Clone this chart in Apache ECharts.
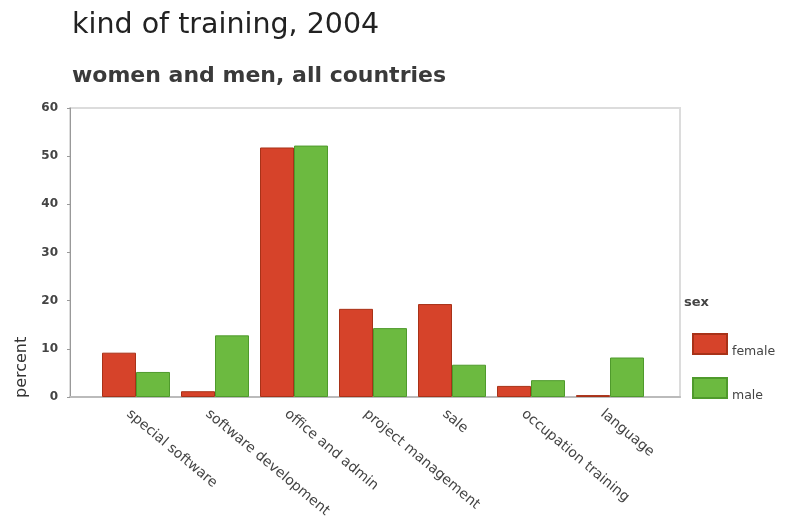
<!DOCTYPE html>
<html>
<head>
<meta charset="utf-8">
<script src="https://cdn.jsdelivr.net/npm/echarts@6/dist/echarts.min.js"></script>
<style>
html,body{margin:0;padding:0;background:#fff;}
#c{width:789px;height:524px;}
</style>
</head>
<body>
<div id="c"></div>
<script>
var categories = ['special software', 'software development', 'office and admin', 'project management', 'sale', 'occupation training', 'language'];
var female = [9.2, 1.2, 51.8, 18.3, 19.3, 2.3, 0.4];
var male = [5.2, 12.8, 52.2, 14.3, 6.7, 3.5, 8.2];
var yTicks = { min: 0, max: 60, interval: 10 };

var FONT = 'DejaVu Sans';
var chart = echarts.init(document.getElementById('c'), null, { renderer: 'canvas' });
var legendText = { fontFamily: FONT, fontSize: 12.5, color: '#444', rich: { a: { fontFamily: FONT, fontSize: 12.5, color: '#444', padding: [16, 0, 0, 0] } } };
chart.setOption({
  animation: false,
  backgroundColor: '#ffffff',
  textStyle: { fontFamily: FONT },
  title: [
    { text: 'kind of training, 2004', left: 67, top: 6, textStyle: { fontFamily: FONT, fontSize: 28.5, fontWeight: 'normal', color: '#222' } },
    { text: 'women and men, all countries', left: 67, top: 60, textStyle: { fontFamily: FONT, fontSize: 22, fontWeight: 'bold', color: '#3a3a3a' } },
    { text: 'sex', left: 679, top: 291, textStyle: { fontFamily: FONT, fontSize: 13, fontWeight: 'bold', color: '#444' } }
  ],
  legend: [
    { data: ['female'], orient: 'vertical', left: 692, top: 333, padding: 0, itemWidth: 34, itemHeight: 20, itemGap: 0,
      icon: 'rect', formatter: '{a|{name}}', textStyle: legendText },
    { data: ['male'], orient: 'vertical', left: 692, top: 377, padding: 0, itemWidth: 34, itemHeight: 20, itemGap: 0,
      icon: 'rect', formatter: '{a|{name}}', textStyle: legendText }
  ],
  graphic: [
    { type: 'text', x: 14, y: 398, rotation: Math.PI / 2,
      style: { text: 'percent', fontFamily: FONT, fontSize: 16, fill: '#333', textAlign: 'left', textVerticalAlign: 'top' } }
  ],
  grid: [
    { left: 70, right: 109, top: 108, bottom: 127, show: true, borderColor: '#dcdcdc', borderWidth: 2, containLabel: false },
    { left: 96.5, right: 139.5, top: 108, bottom: 127, containLabel: false }
  ],
  xAxis: [
    { gridIndex: 0, type: 'category', data: [''], axisLine: { show: true, lineStyle: { color: '#bbb', width: 2 } },
      axisTick: { show: false }, axisLabel: { show: false } },
    { gridIndex: 1, type: 'category', data: categories, axisLine: { show: false }, axisTick: { show: false },
      axisLabel: { rotate: -40, margin: 6, interval: 0, formatter: '{a|{value}}',
        rich: { a: { fontFamily: FONT, fontSize: 14, color: '#444', padding: [24, 0, 0, 0] } } } }
  ],
  yAxis: [
    { gridIndex: 0, type: 'value', min: yTicks.min, max: yTicks.max, interval: yTicks.interval,
      axisLine: { show: true, lineStyle: { color: '#999', width: 1 } },
      axisTick: { show: true, length: 3, lineStyle: { color: '#999' } },
      axisLabel: { margin: 12, fontFamily: FONT, fontSize: 12, fontWeight: 'bold', color: '#444' },
      splitLine: { show: false } },
    { gridIndex: 1, type: 'value', min: yTicks.min, max: yTicks.max, interval: yTicks.interval, show: false, splitLine: { show: false } }
  ],
  series: [
    { name: 'female', type: 'bar', xAxisIndex: 1, yAxisIndex: 1, data: female, barWidth: 34, barGap: '0%',
      itemStyle: { color: '#d6432a', borderColor: '#a83218', borderWidth: 1 } },
    { name: 'male', type: 'bar', xAxisIndex: 1, yAxisIndex: 1, data: male, barWidth: 34, barGap: '0%',
      itemStyle: { color: '#6cba40', borderColor: '#4f9a2c', borderWidth: 1 } }
  ]
});
</script>
</body>
</html>
